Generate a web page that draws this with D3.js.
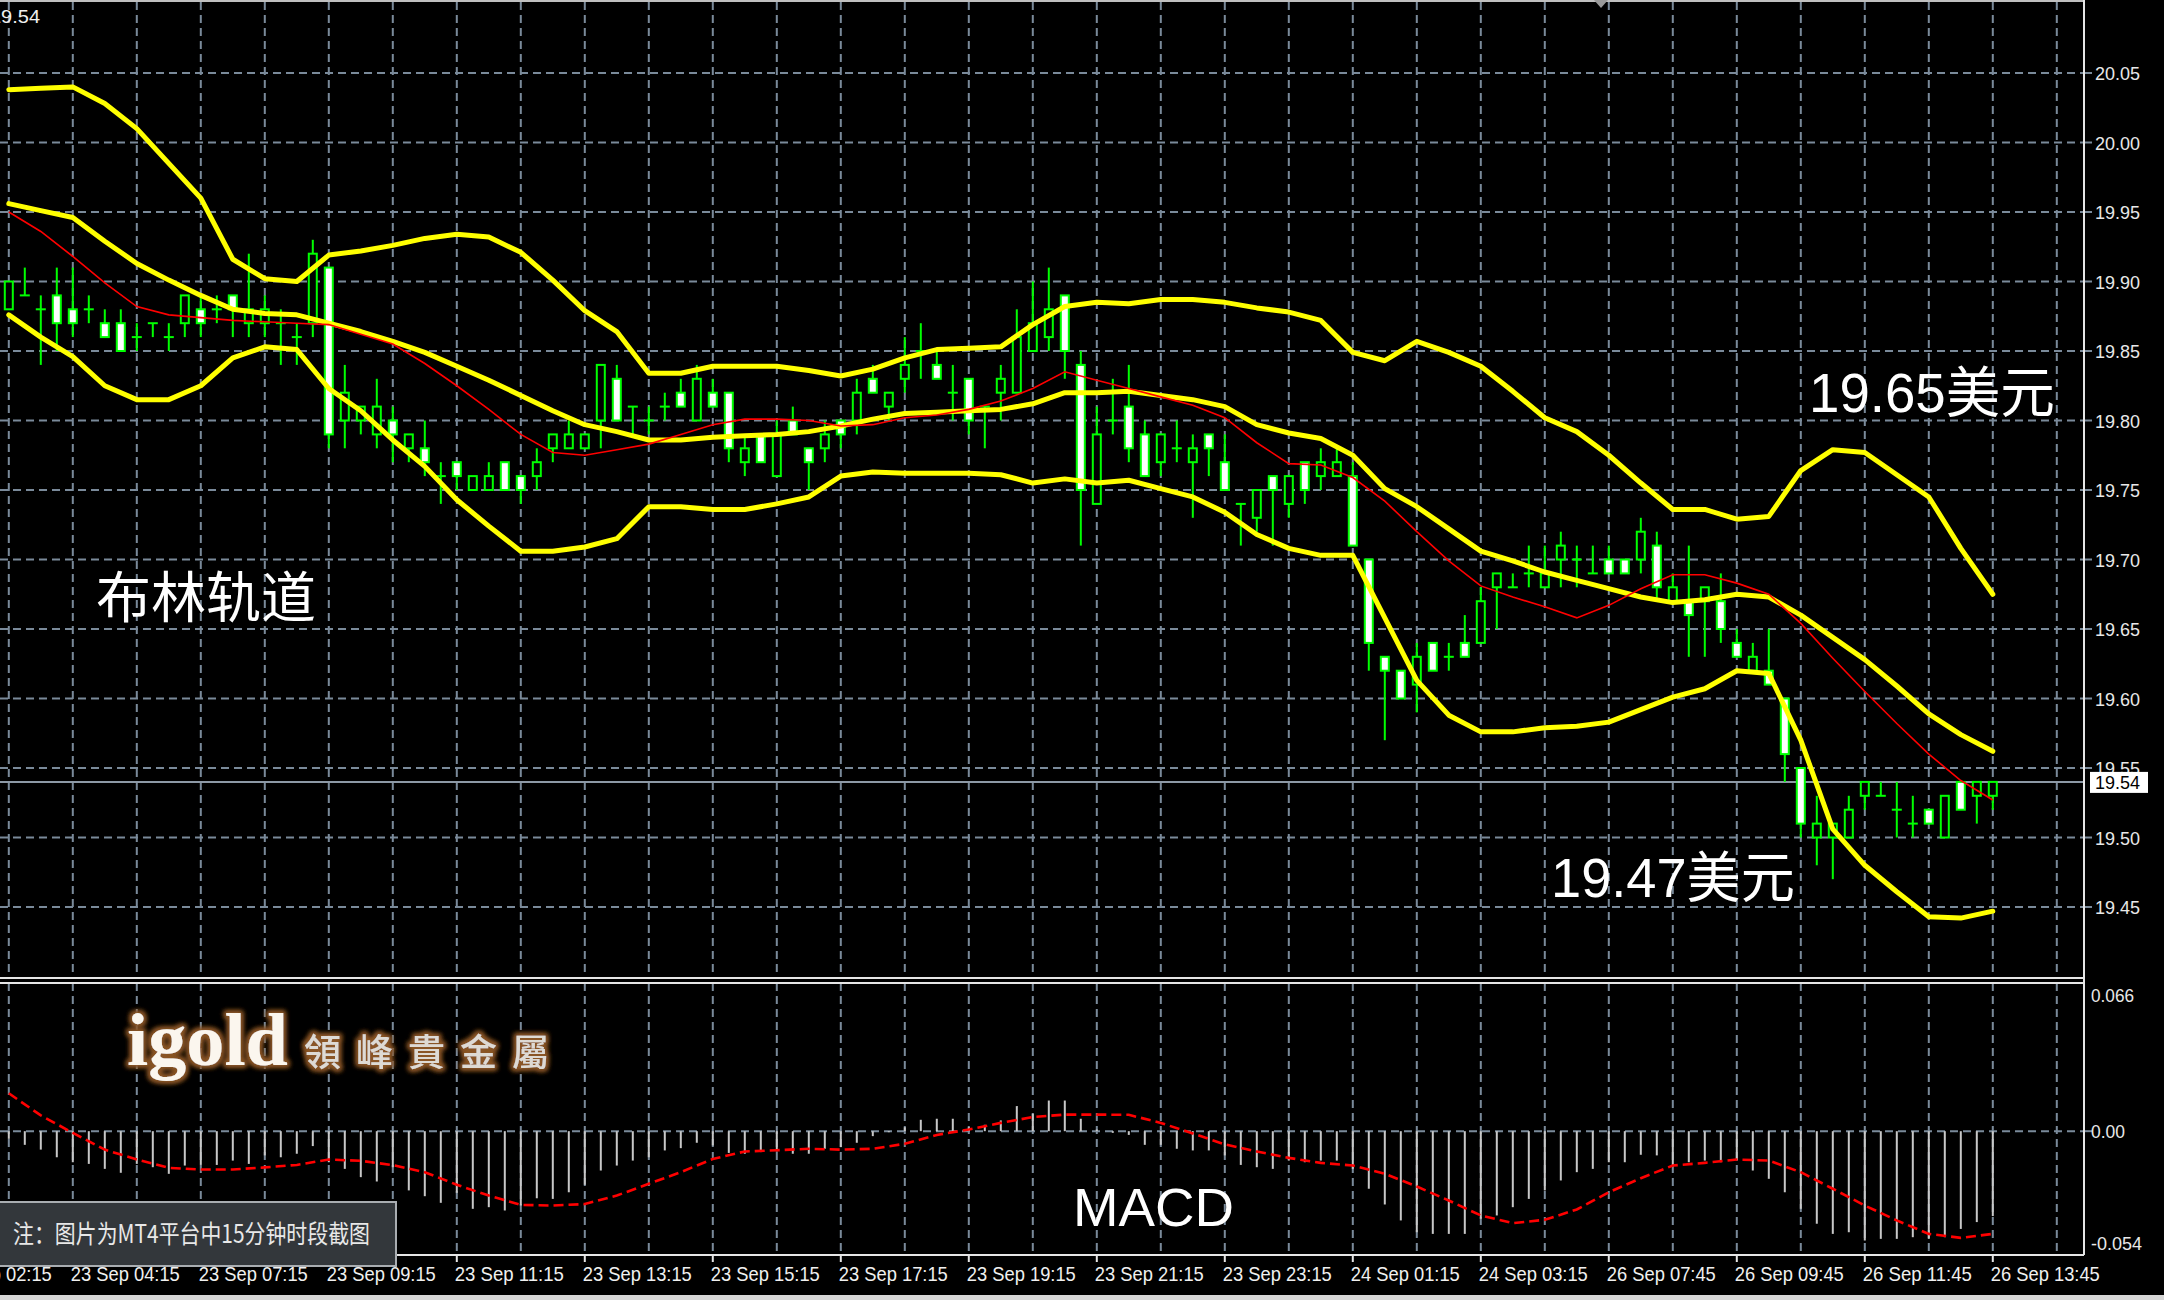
<!DOCTYPE html>
<html><head><meta charset="utf-8">
<script src="https://cdn.jsdelivr.net/npm/d3@7"></script>
<style>html,body{margin:0;padding:0;background:#000;overflow:hidden}</style>
</head><body>
<svg id="c" width="2164" height="1300"></svg>
<script>
// ---- data (15-minute candles, index 0..124) ----
const opens  = [19.88,19.89,19.88,19.89,19.88,19.88,19.87,19.87,19.86,19.87,19.86,19.87,19.88,19.88,19.89,19.87,19.87,19.87,19.86,19.87,
 19.91,19.80,19.80,19.79,19.80,19.78,19.78,19.76,19.77,19.75,19.75,19.77,19.76,19.76,19.78,19.78,19.78,19.80,19.83,19.81,
 19.80,19.81,19.82,19.80,19.82,19.82,19.77,19.79,19.76,19.80,19.78,19.78,19.80,19.80,19.83,19.81,19.83,19.85,19.84,19.82,
 19.83,19.81,19.82,19.82,19.85,19.86,19.89,19.84,19.74,19.80,19.81,19.79,19.77,19.78,19.77,19.79,19.77,19.74,19.73,19.76,
 19.74,19.77,19.76,19.76,19.76,19.70,19.63,19.62,19.61,19.64,19.63,19.64,19.64,19.68,19.68,19.69,19.68,19.70,19.70,19.69,
 19.70,19.70,19.70,19.71,19.67,19.67,19.67,19.67,19.64,19.62,19.62,19.60,19.55,19.50,19.50,19.50,19.53,19.53,19.52,19.51,
 19.52,19.50,19.54,19.53,19.53];
const highs  = [19.90,19.91,19.89,19.91,19.91,19.89,19.88,19.88,19.87,19.87,19.87,19.89,19.89,19.89,19.89,19.92,19.89,19.88,19.87,19.93,
 19.91,19.84,19.81,19.83,19.81,19.79,19.80,19.77,19.77,19.76,19.77,19.77,19.76,19.78,19.79,19.80,19.79,19.84,19.84,19.81,
 19.81,19.82,19.83,19.84,19.83,19.82,19.79,19.79,19.80,19.81,19.78,19.80,19.80,19.83,19.84,19.82,19.86,19.87,19.85,19.84,
 19.83,19.81,19.84,19.88,19.90,19.91,19.89,19.85,19.81,19.83,19.84,19.80,19.79,19.80,19.79,19.79,19.79,19.74,19.75,19.76,
 19.76,19.77,19.78,19.78,19.77,19.70,19.63,19.62,19.64,19.64,19.64,19.66,19.68,19.69,19.69,19.71,19.71,19.72,19.71,19.71,
 19.71,19.70,19.73,19.72,19.69,19.71,19.68,19.69,19.65,19.64,19.65,19.60,19.55,19.53,19.51,19.53,19.54,19.54,19.54,19.53,
 19.52,19.53,19.54,19.54,19.54];
const lows   = [19.88,19.89,19.84,19.85,19.86,19.87,19.86,19.85,19.85,19.86,19.85,19.86,19.86,19.87,19.86,19.86,19.86,19.84,19.84,19.86,
 19.78,19.78,19.79,19.78,19.77,19.77,19.76,19.74,19.75,19.75,19.75,19.75,19.74,19.75,19.77,19.78,19.78,19.78,19.80,19.79,
 19.79,19.80,19.81,19.80,19.81,19.77,19.76,19.77,19.76,19.79,19.75,19.77,19.78,19.79,19.82,19.80,19.82,19.83,19.83,19.80,
 19.79,19.78,19.80,19.82,19.85,19.85,19.83,19.71,19.74,19.79,19.77,19.76,19.76,19.77,19.73,19.76,19.75,19.71,19.72,19.71,
 19.73,19.74,19.75,19.76,19.71,19.62,19.57,19.60,19.59,19.62,19.62,19.63,19.64,19.65,19.68,19.68,19.68,19.68,19.68,19.69,
 19.69,19.69,19.69,19.67,19.67,19.63,19.63,19.64,19.63,19.62,19.61,19.54,19.50,19.48,19.47,19.50,19.52,19.53,19.50,19.50,
 19.51,19.50,19.52,19.51,19.52];
const closes = [19.90,19.89,19.88,19.87,19.87,19.88,19.86,19.85,19.86,19.87,19.86,19.89,19.87,19.88,19.88,19.88,19.88,19.87,19.86,19.92,
 19.79,19.82,19.81,19.81,19.79,19.79,19.77,19.76,19.76,19.76,19.76,19.75,19.75,19.77,19.79,19.79,19.79,19.84,19.80,19.81,
 19.80,19.81,19.81,19.83,19.81,19.78,19.78,19.77,19.79,19.79,19.77,19.79,19.79,19.82,19.82,19.82,19.84,19.85,19.83,19.82,
 19.80,19.81,19.83,19.86,19.87,19.88,19.85,19.75,19.79,19.80,19.78,19.76,19.79,19.78,19.78,19.78,19.75,19.74,19.75,19.75,
 19.76,19.75,19.77,19.77,19.71,19.64,19.62,19.60,19.63,19.62,19.63,19.63,19.67,19.69,19.68,19.69,19.69,19.71,19.70,19.69,
 19.69,19.69,19.72,19.68,19.68,19.66,19.68,19.65,19.63,19.63,19.61,19.56,19.51,19.51,19.51,19.52,19.54,19.53,19.52,19.51,
 19.51,19.53,19.52,19.54,19.54];

// Bollinger bands and red MA, read at every second bar (bars 0,2,4,...,124)
const upperBand = [20.038,20.039,20.040,20.028,20.010,19.985,19.960,19.916,19.902,19.900,19.919,19.922,19.926,19.931,19.934,19.932,19.921,19.901,19.879,19.864,
 19.834,19.834,19.839,19.839,19.839,19.836,19.832,19.837,19.845,19.851,19.852,19.853,19.869,19.882,19.885,19.884,19.887,19.887,19.885,19.881,
 19.878,19.872,19.849,19.843,19.857,19.849,19.839,19.821,19.802,19.792,19.775,19.755,19.736,19.736,19.729,19.731,19.764,19.779,19.777,19.761,
 19.745,19.708,19.675];
const middleBand = [19.956,19.951,19.946,19.929,19.913,19.901,19.890,19.880,19.877,19.876,19.870,19.864,19.857,19.849,19.839,19.829,19.818,19.807,19.797,19.792,
 19.786,19.786,19.788,19.789,19.790,19.792,19.796,19.801,19.805,19.806,19.807,19.808,19.812,19.820,19.820,19.821,19.818,19.815,19.810,19.797,
 19.791,19.787,19.775,19.751,19.738,19.722,19.706,19.699,19.691,19.685,19.679,19.673,19.669,19.671,19.675,19.673,19.660,19.644,19.628,19.609,
 19.589,19.574,19.562];
const lowerBand = [19.876,19.860,19.846,19.825,19.815,19.815,19.825,19.845,19.853,19.851,19.823,19.807,19.786,19.767,19.743,19.724,19.706,19.706,19.709,19.715,
 19.738,19.738,19.736,19.736,19.740,19.745,19.760,19.763,19.762,19.762,19.762,19.761,19.755,19.758,19.755,19.757,19.751,19.745,19.734,19.718,
 19.708,19.703,19.703,19.658,19.613,19.588,19.576,19.576,19.579,19.580,19.583,19.592,19.601,19.607,19.620,19.618,19.570,19.506,19.480,19.461,
 19.443,19.442,19.447];
const maLine = [19.950,19.936,19.918,19.899,19.882,19.876,19.874,19.872,19.871,19.870,19.869,19.862,19.855,19.841,19.825,19.808,19.790,19.777,19.775,19.779,
 19.783,19.790,19.797,19.801,19.801,19.800,19.796,19.797,19.802,19.804,19.808,19.814,19.823,19.835,19.829,19.823,19.817,19.811,19.802,19.784,
 19.769,19.768,19.759,19.742,19.720,19.699,19.681,19.673,19.666,19.658,19.667,19.679,19.689,19.689,19.683,19.675,19.654,19.629,19.605,19.582,
 19.560,19.541,19.527];

// MACD histogram (every bar) and signal (every second bar)
const macdHist = [-0.0037,-0.0066,-0.0089,-0.0126,-0.0150,-0.0158,-0.0182,-0.0201,-0.0158,-0.0174,-0.0206,-0.0166,-0.0163,-0.0163,-0.0142,-0.0158,-0.0117,-0.0126,-0.0109,-0.0072,
 -0.0150,-0.0182,-0.0222,-0.0243,-0.0174,-0.0286,-0.0314,-0.0346,-0.0298,-0.0375,-0.0367,-0.0383,-0.0359,-0.0324,-0.0327,-0.0295,-0.0259,-0.0190,-0.0166,-0.0142,
 -0.0126,-0.0093,-0.0082,-0.0056,-0.0069,-0.0105,-0.0109,-0.0101,-0.0098,-0.0109,-0.0109,-0.0085,-0.0077,-0.0056,-0.0024,-0.0005,0.0019,0.0055,0.0060,0.0060,
 0.0019,0.0031,0.0052,0.0121,0.0084,0.0148,0.0148,0.0060,0.0008,-0.0008,-0.0018,-0.0066,-0.0066,-0.0085,-0.0093,-0.0093,-0.0117,-0.0163,-0.0174,-0.0182,
 -0.0142,-0.0150,-0.0142,-0.0142,-0.0182,-0.0278,-0.0354,-0.0431,-0.0488,-0.0496,-0.0496,-0.0496,-0.0423,-0.0407,-0.0367,-0.0327,-0.0286,-0.0238,-0.0198,-0.0182,
 -0.0150,-0.0150,-0.0114,-0.0117,-0.0166,-0.0150,-0.0142,-0.0150,-0.0142,-0.0190,-0.0230,-0.0295,-0.0375,-0.0447,-0.0496,-0.0488,-0.0528,-0.0520,-0.0520,-0.0512,
 -0.0520,-0.0512,-0.0472,-0.0439,-0.0410];
const macdSignal = [0.0183,0.0076,-0.0008,-0.0089,-0.0137,-0.0177,-0.0185,-0.0185,-0.0175,-0.0163,-0.0137,-0.0143,-0.0164,-0.0198,-0.0259,-0.0311,-0.0356,-0.0359,-0.0352,-0.0311,
 -0.0254,-0.0198,-0.0134,-0.0098,-0.0092,-0.0085,-0.0089,-0.0085,-0.0061,-0.0018,0.0008,0.0040,0.0068,0.0080,0.0080,0.0079,0.0040,-0.0011,-0.0064,-0.0098,
 -0.0129,-0.0153,-0.0166,-0.0206,-0.0267,-0.0335,-0.0407,-0.0444,-0.0428,-0.0378,-0.0295,-0.0227,-0.0166,-0.0153,-0.0137,-0.0142,-0.0198,-0.0278,-0.0359,-0.0431,
 -0.0496,-0.0515,-0.0496];

const priceTicks = [20.05,20.00,19.95,19.90,19.85,19.80,19.75,19.70,19.65,19.60,19.55,19.50,19.45];
const macdTicks = [0.066,0.00,-0.054];
const macdTickLabels = ["0.066","0.00","-0.054"];
const timeLabels = ["23 Sep 02:15","23 Sep 04:15","23 Sep 07:15","23 Sep 09:15","23 Sep 11:15","23 Sep 13:15","23 Sep 15:15","23 Sep 17:15",
 "23 Sep 19:15","23 Sep 21:15","23 Sep 23:15","24 Sep 01:15","24 Sep 03:15","26 Sep 07:45","26 Sep 09:45","26 Sep 11:45","26 Sep 13:45"];
const lastPrice = 19.54;

// ---- layout ----
const svg = d3.select("#c");
const W = 2164, H = 1300, plotR = 2084;
const mainTop = 2, mainBot = 978, macdTop = 983, macdBot = 1255;
const x = d3.scaleLinear().domain([0,124]).range([8.8,1992.8]);
const y = d3.scaleLinear().domain([19.45,20.05]).range([907,73]);
const ym = d3.scaleLinear().domain([-0.054,0.066]).range([1243,994.5]);

const defs = svg.append("defs");
const f = defs.append("filter").attr("id","glow").attr("x","-20%").attr("y","-30%").attr("width","140%").attr("height","160%");
f.append("feMorphology").attr("in","SourceAlpha").attr("operator","dilate").attr("radius",1.5).attr("result","d");
f.append("feGaussianBlur").attr("in","d").attr("stdDeviation",2.5).attr("result","b");
f.append("feFlood").attr("flood-color","#8a5526");
f.append("feComposite").attr("in2","b").attr("operator","in").attr("result","g");
const fm = f.append("feMerge"); fm.append("feMergeNode").attr("in","g"); fm.append("feMergeNode").attr("in","g"); fm.append("feMergeNode").attr("in","SourceGraphic");

svg.append("rect").attr("width",W).attr("height",H).attr("fill","#000");

const gridColor = "#7a8a9a";
// vertical grid
const gridIdx = d3.range(0,129,4);
[[mainTop,mainBot],[macdTop,macdBot]].forEach(([a,b])=>{
  svg.append("g").selectAll("line").data(gridIdx).join("line")
    .attr("x1",d=>x(d)).attr("x2",d=>x(d)).attr("y1",a).attr("y2",b)
    .attr("stroke",gridColor).attr("stroke-width",2).attr("stroke-dasharray","8,5");
});
// horizontal grid (main)
svg.append("g").selectAll("line").data(priceTicks).join("line")
  .attr("x1",0).attr("x2",plotR+8).attr("y1",d=>y(d)).attr("y2",d=>y(d))
  .attr("stroke",gridColor).attr("stroke-width",2).attr("stroke-dasharray","8,5");
// macd zero line
svg.append("line").attr("x1",0).attr("x2",plotR+8).attr("y1",ym(0)).attr("y2",ym(0))
  .attr("stroke",gridColor).attr("stroke-width",2).attr("stroke-dasharray","8,5");

// current price line
svg.append("line").attr("x1",0).attr("x2",plotR).attr("y1",y(lastPrice)).attr("y2",y(lastPrice))
  .attr("stroke","#8d99a6").attr("stroke-width",2);

// candles
const idx = d3.range(opens.length);
const cg = svg.append("g");
cg.selectAll("line.w").data(idx).join("line").attr("class","w")
  .attr("x1",i=>x(i)).attr("x2",i=>x(i)).attr("y1",i=>y(highs[i])).attr("y2",i=>y(lows[i]))
  .attr("stroke","#00ff00").attr("stroke-width",2);
cg.selectAll("rect").data(idx.filter(i=>opens[i]!==closes[i])).join("rect")
  .attr("x",i=>x(i)-4).attr("width",8)
  .attr("y",i=>y(Math.max(opens[i],closes[i])))
  .attr("height",i=>Math.abs(y(opens[i])-y(closes[i])))
  .attr("fill",i=>closes[i]<opens[i]?"#ffffff":"#000000")
  .attr("stroke","#00ff00").attr("stroke-width",2);
cg.selectAll("line.d").data(idx.filter(i=>opens[i]===closes[i])).join("line").attr("class","d")
  .attr("x1",i=>x(i)-5).attr("x2",i=>x(i)+5).attr("y1",i=>y(opens[i])).attr("y2",i=>y(opens[i]))
  .attr("stroke","#00ff00").attr("stroke-width",2);

// bands
const bandLine = d3.line().x((d,k)=>x(k*2)).y(d=>y(d));
[upperBand,middleBand,lowerBand].forEach(b=>{
  svg.append("path").attr("d",bandLine(b)).attr("fill","none").attr("stroke","#ffff00")
    .attr("stroke-width",5).attr("stroke-linejoin","round").attr("stroke-linecap","round");
});
svg.append("path").attr("d",bandLine(maLine)).attr("fill","none").attr("stroke","#ff0000").attr("stroke-width",1.6);

// MACD
svg.append("g").selectAll("line").data(idx).join("line")
  .attr("x1",i=>x(i)).attr("x2",i=>x(i)).attr("y1",ym(0)).attr("y2",i=>ym(macdHist[i]))
  .attr("stroke","#c8c8c8").attr("stroke-width",2);
svg.append("path").attr("d",d3.line().x((d,k)=>x(k*2)).y(d=>ym(d))(macdSignal))
  .attr("fill","none").attr("stroke","#ff0000").attr("stroke-width",2.6).attr("stroke-dasharray","10,5");

// black mask right of plot
svg.append("rect").attr("x",plotR+1).attr("y",0).attr("width",W-plotR).attr("height",H).attr("fill","#000");
// re-draw right ticks
svg.append("g").selectAll("line").data(priceTicks).join("line")
  .attr("x1",plotR).attr("x2",plotR+8).attr("y1",d=>y(d)).attr("y2",d=>y(d)).attr("stroke",gridColor).attr("stroke-width",2);
svg.append("line").attr("x1",plotR).attr("x2",plotR+8).attr("y1",ym(0)).attr("y2",ym(0)).attr("stroke",gridColor).attr("stroke-width",2);

// borders
const bc = "#e6e6e6";
svg.append("line").attr("x1",0).attr("x2",plotR).attr("y1",1).attr("y2",1).attr("stroke","#bfbfbf").attr("stroke-width",2);
svg.append("line").attr("x1",plotR).attr("x2",plotR).attr("y1",0).attr("y2",macdBot).attr("stroke",bc).attr("stroke-width",2);
svg.append("line").attr("x1",0).attr("x2",plotR).attr("y1",mainBot).attr("y2",mainBot).attr("stroke",bc).attr("stroke-width",2);
svg.append("line").attr("x1",0).attr("x2",plotR).attr("y1",macdTop).attr("y2",macdTop).attr("stroke",bc).attr("stroke-width",2);
svg.append("line").attr("x1",0).attr("x2",plotR).attr("y1",macdBot).attr("y2",macdBot).attr("stroke",bc).attr("stroke-width",2);

// price axis labels
const axFont = "'Liberation Sans', Arial, sans-serif";
svg.append("g").selectAll("text").data(priceTicks).join("text")
  .attr("x",2095).attr("y",d=>y(d)+7).attr("font-family",axFont).attr("font-size",19)
  .attr("textLength",45).attr("lengthAdjust","spacingAndGlyphs").attr("fill","#e8e8e8")
  .text(d=>d.toFixed(2));
svg.append("rect").attr("x",2090).attr("y",y(lastPrice)-10).attr("width",58).attr("height",21).attr("fill","#ffffff");
svg.append("text").attr("x",2095).attr("y",y(lastPrice)+7).attr("font-family",axFont).attr("font-size",19)
  .attr("textLength",45).attr("lengthAdjust","spacingAndGlyphs").attr("fill","#000").text(lastPrice.toFixed(2));
const macdLens = [43,34,51];
svg.append("g").selectAll("text").data(macdTicks).join("text")
  .attr("x",2091).attr("y",d=>ym(d)+7).attr("font-family",axFont).attr("font-size",19)
  .attr("textLength",(d,k)=>macdLens[k]).attr("lengthAdjust","spacingAndGlyphs").attr("fill","#e8e8e8")
  .text((d,k)=>macdTickLabels[k]);

// time axis
const labIdx = timeLabels.map((t,k)=>-4+8*k);
svg.append("g").selectAll("line").data(labIdx).join("line")
  .attr("x1",i=>x(i)).attr("x2",i=>x(i)).attr("y1",macdBot).attr("y2",macdBot+7).attr("stroke",bc).attr("stroke-width",2);
svg.append("g").selectAll("text").data(timeLabels).join("text")
  .attr("x",(t,k)=>x(labIdx[k])-2).attr("y",1281).attr("font-family",axFont).attr("font-size",21)
  .attr("textLength",109).attr("lengthAdjust","spacingAndGlyphs").attr("fill","#f0f0f0").text(t=>t);

// bottom window strip
svg.append("rect").attr("x",0).attr("y",1295).attr("width",W).attr("height",5).attr("fill","#d6d6d6");

// top-left price and shift marker
svg.append("text").attr("x",-10).attr("y",23).attr("font-family",axFont).attr("font-size",18)
  .attr("textLength",50).attr("lengthAdjust","spacingAndGlyphs").attr("fill","#f0f0f0").text("19.54");
svg.append("path").attr("d","M1594,0 L1608,0 L1601,8 Z").attr("fill","#9a9a9a");

// annotations
const cjk = "'Noto Sans CJK SC','Noto Sans',sans-serif";
svg.append("text").attr("x",96).attr("y",617).attr("font-family",cjk).attr("font-size",55).attr("fill","#ffffff").text("布林轨道");
svg.append("text").attr("x",1809).attr("y",412).attr("font-family","'Liberation Sans','Noto Sans CJK SC',sans-serif").attr("font-size",55)
  .attr("textLength",246).attr("lengthAdjust","spacingAndGlyphs").attr("fill","#ffffff").text("19.65美元");
svg.append("text").attr("x",1551).attr("y",897).attr("font-family","'Liberation Sans','Noto Sans CJK SC',sans-serif").attr("font-size",55)
  .attr("textLength",244).attr("lengthAdjust","spacingAndGlyphs").attr("fill","#ffffff").text("19.47美元");
svg.append("text").attr("x",1073).attr("y",1226).attr("font-family","'Liberation Sans',Arial,sans-serif").attr("font-size",54)
  .attr("textLength",161).attr("lengthAdjust","spacingAndGlyphs").attr("fill","#ffffff").text("MACD");

// logo
svg.append("text").attr("x",127).attr("y",1065).attr("font-family","'Liberation Serif','DejaVu Serif',serif").attr("font-weight","bold")
  .attr("font-size",74).attr("textLength",161).attr("lengthAdjust","spacingAndGlyphs").attr("fill","#fbf6ee").attr("filter","url(#glow)").text("igold");
svg.append("text").attr("x",304).attr("y",1066).attr("font-family","'Noto Sans CJK TC','Noto Sans CJK SC',sans-serif").attr("font-weight",500)
  .attr("font-size",37).attr("letter-spacing",15).attr("fill","#dedad4").attr("filter","url(#glow)").text("領峰貴金屬");

// note box
svg.append("rect").attr("x",-2).attr("y",1202).attr("width",398).attr("height",64).attr("fill","#33373b").attr("stroke","#a9adb1").attr("stroke-width",2);
svg.append("text").attr("x",13).attr("y",1243).attr("font-family",cjk).attr("font-size",25)
  .attr("textLength",357).attr("lengthAdjust","spacingAndGlyphs").attr("fill","#e8e8e8").text("注：图片为MT4平台中15分钟时段截图");
</script>
</body></html>
